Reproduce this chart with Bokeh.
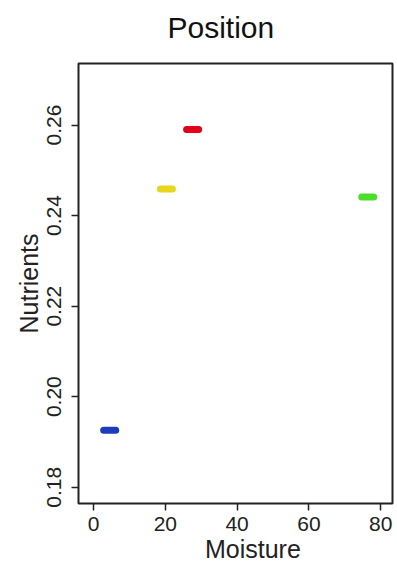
from bokeh.plotting import figure
from bokeh.models import ColumnDataSource, Range1d, FixedTicker, Title
from bokeh.embed import file_html
from bokeh.resources import INLINE

# data
moisture = [27.6, 20.3, 76.4, 4.5]
nutrients = [0.2590, 0.2459, 0.2441, 0.1926]
colors = ["#e0001b", "#e6d61c", "#4cdc2a", "#1c3cbc"]
x_ticks = [0, 20, 40, 60, 80]
y_ticks = [0.18, 0.20, 0.22, 0.24, 0.26]
y_tick_labels = {0.18: "0.18", 0.20: "0.20", 0.22: "0.22", 0.24: "0.24", 0.26: "0.26"}
x_label = "Moisture"
y_label = "Nutrients"
title = "Position"

FONT = "Liberation Sans"
Y0, Y1 = 0.1764, 0.2736

p = figure(width=397, height=568, output_backend="svg", toolbar_location=None,
           x_range=Range1d(-4.2, 83.3), y_range=Range1d(Y0, Y1),
           min_border_left=78, min_border_right=5, min_border_top=63, min_border_bottom=65)
p.title.visible = False

# spacer between frame and title, then the title itself (further out)
p.add_layout(Title(text="\u00a0", text_font_size="1px", standoff=9), "above")
p.add_layout(Title(text=title, align="left", offset=89, text_font=FONT,
                   text_font_size="30px", text_font_style="normal", text_color="#111111",
                   standoff=15), "above")

src = ColumnDataSource(dict(x=moisture, y=nutrients, c=colors))
p.scatter("x", "y", source=src, marker="dash", size=12, line_color="c",
          line_width=7, line_cap="round")

p.grid.visible = False
p.outline_line_color = "#222222"
p.outline_line_width = 2
p.background_fill_color = "white"
p.border_fill_color = "white"

for ax in (p.xaxis[0], p.yaxis[0]):
    ax.axis_line_color = None
    ax.major_tick_line_color = "#222222"
    ax.major_tick_line_width = 1.5
    ax.major_tick_out = 7
    ax.major_tick_in = 0
    ax.minor_tick_line_color = None
    ax.major_label_text_font = FONT
    ax.major_label_text_font_size = "21px"
    ax.major_label_text_color = "#222222"
    ax.axis_label_text_font = FONT
    ax.axis_label_text_font_size = "25px"
    ax.axis_label_text_font_style = "normal"
    ax.axis_label_text_color = "#222222"

p.xaxis.ticker = FixedTicker(ticks=x_ticks)
p.yaxis.ticker = FixedTicker(ticks=y_ticks)
p.yaxis.major_label_overrides = y_tick_labels
p.yaxis.major_label_orientation = "vertical"
p.xaxis.axis_label = "\u00a0" * 5 + x_label
p.yaxis.axis_label = y_label
p.xaxis.major_label_standoff = 6
p.xaxis.axis_label_standoff = 1
p.yaxis.major_label_standoff = 10
p.yaxis.axis_label_standoff = 2

open("out.html", "w").write(file_html(p, INLINE))
